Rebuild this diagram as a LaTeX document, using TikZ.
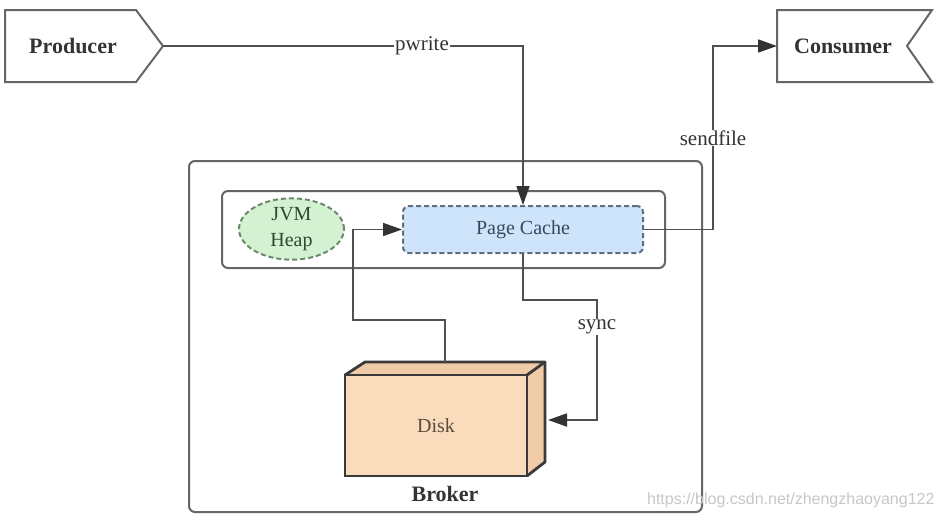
\documentclass[tikz,border=0pt]{standalone}
\usepackage{fontspec}
\setmainfont{Liberation Serif}
\newfontfamily\wmfont{Liberation Sans}
\usetikzlibrary{arrows.meta,shapes.geometric}
\definecolor{linec}{HTML}{505050}
\definecolor{tipc}{HTML}{333333}
\definecolor{boxc}{HTML}{666666}
\definecolor{txtc}{HTML}{333333}
\definecolor{pcfill}{HTML}{CDE4FB}
\definecolor{pcdraw}{HTML}{5F6F80}
\definecolor{pctxt}{HTML}{34485E}
\definecolor{jvmfill}{HTML}{D4F2D2}
\definecolor{jvmdraw}{HTML}{6A8A6A}
\definecolor{jvmtxt}{HTML}{2E4A2E}
\definecolor{diskfront}{HTML}{FADCBD}
\definecolor{diskside}{HTML}{EFCBA8}
\definecolor{disktxt}{HTML}{5A4A3C}
\definecolor{diskdraw}{HTML}{3A3A3A}
\tikzset{
  conn/.style={draw=linec, line width=1.8pt, -{Triangle[length=19pt,width=13pt,fill=tipc,color=tipc]}},
  lbl/.style={fill=white, text=txtc, inner sep=1pt, font=\fontsize{21}{24}\selectfont},
  bigbold/.style={text=txtc, font=\fontsize{22}{26}\selectfont\bfseries},
  container/.style={draw=boxc, line width=2pt, rounded corners=6pt},
}
\begin{document}
\begin{tikzpicture}[x=1pt,y=-1pt]
\useasboundingbox (0,0) rectangle (946,520);
\fill[white] (0,0) rectangle (946,520);

% Producer
\draw[draw=boxc, line width=2pt, fill=white] (5,10) -- (136,10) -- (163,46) -- (136,82) -- (5,82) -- cycle;
\node[bigbold] (prod) at (73,46) {Producer};
\coordinate (prodtip) at (163,46);

% Consumer
\draw[draw=boxc, line width=2pt, fill=white] (777,10) -- (932,10) -- (907,46) -- (932,82) -- (777,82) -- cycle;
\node[bigbold] (cons) at (843,46) {Consumer};
\coordinate (consin) at (777,46);

% Broker outer box
\draw[container] (189,161) rectangle (702,512);
\node[bigbold] (broker) at (445,494) {Broker};

% inner box
\draw[container] (222,191) rectangle (665,268);

% JVM Heap
\node[ellipse, draw=jvmdraw, dashed, dash pattern=on 5pt off 3pt, line width=2pt, fill=jvmfill,
      minimum width=105pt, minimum height=58pt, inner sep=0pt, align=center, text=jvmtxt,
      font=\fontsize{20}{26}\selectfont] (jvm) at (291.5,229) {JVM\\Heap};

% Page Cache
\node[draw=pcdraw, dashed, dash pattern=on 5pt off 3pt, line width=2pt, fill=pcfill, rounded corners=6pt,
      minimum width=240pt, minimum height=47pt, inner sep=0pt, text=pctxt,
      font=\fontsize{20}{23}\selectfont] (pc) at (523,229.5) {Page Cache};

% Disk
\fill[diskside] (345,375) -- (365,362) -- (545,362) -- (527,375) -- cycle;
\fill[diskside] (527,375) -- (545,362) -- (545,462) -- (527,476) -- cycle;
\node[fill=diskfront, draw=diskdraw, line width=2.2pt, minimum width=182pt, minimum height=101pt,
      inner sep=0pt, text=disktxt, font=\fontsize{20}{23}\selectfont] (disk) at (436,425.5) {Disk};
\draw[diskdraw, line width=2.8pt, line join=round] (345,375) -- (365,362) -- (545,362) -- (527,375);
\draw[diskdraw, line width=2.8pt, line join=round] (545,362) -- (545,462) -- (527,476);
\coordinate (disktop) at (445,362);
\coordinate (diskin) at (548,420);

% pwrite
\draw[conn] (prodtip) -- (523,46) -- (pc.north);
\node[lbl] (pwl) at (422,46) {pwrite};

% sendfile
\draw[conn] (pc.east) -- (713,229.5) -- (713,46) -- (consin);
\node[lbl] (sfl) at (713,138) {sendfile};

% sync
\draw[conn] (pc.south) -- (523,300) -- (597,300) -- (597,420) -- (diskin);
\node[lbl] (syl) at (597,327) {sync};

% disk -> page cache
\draw[conn] (disktop) -- (445,320) -- (353,320) -- (353,229.5) -- (pc.west);

% watermark
\node[text=black!22, font=\wmfont\fontsize{16}{18}\selectfont, anchor=east] (wm) at (938,500) {https://blog.csdn.net/zhengzhaoyang122};
\end{tikzpicture}
\end{document}
